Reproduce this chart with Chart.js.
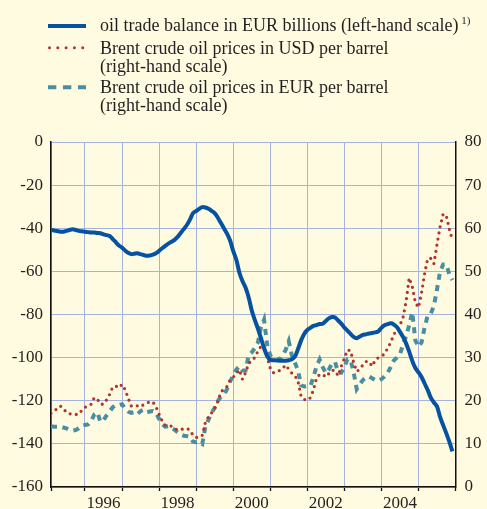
<!DOCTYPE html>
<html>
<head>
<meta charset="utf-8">
<script src="https://cdn.jsdelivr.net/npm/chart.js@4/dist/chart.umd.min.js"></script>
<style>
  html, body { margin: 0; padding: 0; background: #fefbe0; }
  #wrap { position: relative; width: 487px; height: 509px; }
</style>
</head>
<body>
<div id="wrap"><canvas id="c"></canvas></div>
<script>
// Monthly observations, February 1995 to December 2005
const firstYear = 1995;
const firstMonth = 2;

// Oil trade balance, EUR billions (left-hand scale)
const tradeBalance = [
  -40.8, -41.0, -41.3, -41.6, -41.6, -41.2, -40.8, -40.5, -40.8, -41.2, -41.4,          // 1995
  -41.6, -41.8, -42.0, -42.0, -42.2, -42.3, -42.8, -43.2, -43.6, -45.0, -46.5, -48.0,   // 1996
  -49.0, -50.3, -51.4, -52.0, -51.8, -51.6, -52.0, -52.4, -52.8, -52.6, -52.2, -51.6,   // 1997
  -50.5, -49.3, -48.2, -47.1, -46.3, -45.4, -44.0, -42.2, -40.4, -38.5, -36.0, -33.0,   // 1998
  -32.0, -31.0, -30.2, -30.4, -31.0, -31.9, -33.0, -35.0, -37.5, -40.0, -42.5, -45.7,   // 1999
  -50.5, -54.5, -60.5, -64.5, -67.5, -72.0, -78.0, -82.5, -86.5, -91.0, -95.5, -99.3,   // 2000
  -101.0, -101.2, -101.3, -101.4, -101.5, -101.4, -101.2, -100.8, -99.5, -96.0, -92.0, -89.0, // 2001
  -87.2, -86.2, -85.3, -84.9, -84.4, -84.3, -83.0, -81.8, -81.2, -81.4, -82.8, -84.2,   // 2002
  -86.0, -87.5, -89.0, -90.4, -91.0, -90.2, -89.5, -89.2, -88.8, -88.6, -88.3, -87.8,   // 2003
  -86.2, -85.0, -84.5, -84.1, -84.6, -85.8, -88.0, -90.4, -93.4, -97.2, -101.5, -104.8, // 2004
  -106.8, -109.0, -112.0, -115.0, -118.6, -120.8, -122.6, -127.5, -131.3, -135.0, -139.0, -143.5 // 2005
];

// Brent crude oil price, USD per barrel (right-hand scale)
const brentUsd = [
  17.1, 17.6, 18.2, 18.8, 18.2, 17.3, 17.0, 16.8, 16.8, 16.9, 17.8,          // 1995
  18.5, 18.7, 19.2, 20.7, 20.4, 19.2, 19.2, 20.2, 21.5, 23.2, 23.4, 23.0,    // 1996
  23.8, 22.6, 20.6, 18.8, 19.0, 18.8, 18.6, 19.1, 19.4, 19.8, 19.7, 18.6,    // 1997
  16.9, 15.3, 14.3, 14.3, 14.1, 13.6, 13.2, 13.3, 13.5, 13.6, 13.2, 12.0,    // 1998
  11.5, 11.5, 12.0, 15.0, 16.3, 17.2, 18.3, 19.8, 22.0, 22.7, 23.3, 24.8,    // 1999
  25.5, 26.2, 27.2, 25.0, 26.5, 28.6, 29.4, 30.0, 31.5, 32.6, 31.9, 30.2,    // 2000
  27.6, 26.5, 26.6, 27.0, 27.5, 28.3, 27.3, 26.4, 25.8, 24.5, 21.0, 20.3,    // 2001
  20.1, 20.7, 22.5, 25.3, 26.1, 26.1, 25.5, 26.3, 27.1, 27.0, 25.8, 28.0,    // 2002
  29.8, 31.8, 31.6, 28.9, 26.8, 27.3, 28.3, 29.1, 29.1, 28.0, 29.4, 30.0,    // 2003
  30.4, 30.8, 32.2, 33.5, 35.3, 36.6, 37.5, 39.3, 43.0, 48.5, 46.5, 42.8,    // 2004
  41.6, 45.0, 49.5, 53.0, 53.0, 51.8, 56.2, 60.3, 63.3, 63.0, 59.8, 57.3     // 2005
];

// Brent crude oil price, EUR per barrel (right-hand scale)
const brentEur = [
  14.1, 14.0, 14.0, 14.0, 13.8, 13.6, 13.3, 13.1, 13.2, 13.6, 14.2,          // 1995
  14.4, 14.5, 15.3, 16.8, 17.3, 15.1, 15.5, 16.6, 17.5, 18.5, 19.0, 19.0,    // 1996
  19.2, 18.2, 17.5, 17.2, 17.4, 16.9, 17.6, 17.9, 17.3, 17.5, 17.6, 17.2,    // 1997
  15.8, 14.6, 14.0, 14.1, 13.6, 13.3, 12.7, 12.2, 11.9, 11.8, 11.6, 10.5,    // 1998
  10.4, 10.5, 10.0, 14.0, 15.6, 17.2, 18.3, 19.9, 20.9, 21.4, 22.7, 24.5,    // 1999
  25.8, 27.2, 28.0, 27.0, 27.0, 30.5, 31.2, 32.2, 33.5, 37.0, 38.8, 33.0,    // 2000
  30.5, 29.9, 29.7, 29.5, 30.5, 31.8, 33.8, 30.5, 28.8, 27.0, 23.6, 23.3,    // 2001
  23.4, 23.4, 25.5, 28.0, 29.6, 27.8, 26.4, 27.3, 28.6, 29.0, 26.5, 26.5,    // 2002
  27.8, 29.6, 29.5, 26.7, 22.7, 23.8, 24.8, 25.4, 25.6, 25.2, 24.8, 24.6,    // 2003
  25.0, 25.6, 26.4, 27.8, 29.3, 30.0, 30.8, 33.0, 35.0, 37.5, 40.5, 34.0,    // 2004
  32.5, 33.5, 37.0, 39.8, 40.2, 42.0, 45.8, 49.9, 51.6, 51.6, 49.3, 48.0     // 2005
];

const leftTicks  = [0, -20, -40, -60, -80, -100, -120, -140, -160];
const rightTicks = [80, 70, 60, 50, 40, 30, 20, 10, 0];
const yearLabels = [1996, 1998, 2000, 2002, 2004];
const yearLines  = [1996, 1997, 1998, 1999, 2000, 2001, 2002, 2003, 2004, 2005, 2006];

const seriesNames = [
  ['oil trade balance in EUR billions (left-hand scale)'],
  ['Brent crude oil prices in USD per barrel', '(right-hand scale)'],
  ['Brent crude oil prices in EUR per barrel', '(right-hand scale)']
];
const footnoteMark = '1)';

const BLUE = '#0652a0';
const RED = '#b4312c';
const TEAL = '#4b8ea2';
const GRID = '#a6b2e0';
const INK = '#231f20';
const SERIF = '"Liberation Serif", "Times New Roman", serif';

// x position of each monthly observation, in fractional years
const monthPos = tradeBalance.map((_, i) => firstYear + (firstMonth - 1 + i) / 12);
const xMin = monthPos[0];
const points = vals => monthPos.map((x, i) => ({ x: x, y: vals[i] }));

// Key drawn above the plot area
const seriesKey = {
  id: 'seriesKey',
  afterDraw(chart) {
    const ctx = chart.ctx;
    ctx.save();
    // solid line sample
    ctx.strokeStyle = BLUE; ctx.lineWidth = 4; ctx.lineCap = 'butt'; ctx.setLineDash([]);
    ctx.beginPath(); ctx.moveTo(48, 26); ctx.lineTo(86, 26); ctx.stroke();
    // dotted sample
    ctx.strokeStyle = RED; ctx.lineWidth = 3; ctx.lineCap = 'round'; ctx.setLineDash([0, 8.3]);
    ctx.beginPath(); ctx.moveTo(49.5, 47.7); ctx.lineTo(84, 47.7); ctx.stroke();
    // dashed sample
    ctx.strokeStyle = TEAL; ctx.lineWidth = 4; ctx.lineCap = 'butt'; ctx.setLineDash([8.3, 6.7]);
    ctx.beginPath(); ctx.moveTo(48, 87.3); ctx.lineTo(86, 87.3); ctx.stroke();
    ctx.setLineDash([]);

    ctx.fillStyle = INK;
    ctx.font = '18px ' + SERIF;
    ctx.textAlign = 'left';
    ctx.textBaseline = 'alphabetic';
    const baselines = [[31], [54, 71.7], [93.3, 110.7]];
    seriesNames.forEach((lines, k) => {
      lines.forEach((t, j) => ctx.fillText(t, 100, baselines[k][j]));
    });
    const w = ctx.measureText(seriesNames[0][0]).width;
    ctx.font = '11px ' + SERIF;
    ctx.fillText(footnoteMark, 100 + w + 3, 24);
    ctx.restore();
  }
};

Chart.defaults.font.family = SERIF;
Chart.defaults.font.size = 17;
Chart.defaults.color = INK;

new Chart(document.getElementById('c'), {
  type: 'line',
  data: {
    datasets: [
      {
        label: seriesNames[0].join(' '),
        data: points(tradeBalance),
        yAxisID: 'yL',
        borderColor: BLUE,
        borderWidth: 4,
        pointRadius: 0,
        tension: 0.3,
        borderJoinStyle: 'round'
      },
      {
        label: seriesNames[1].join(' '),
        data: points(brentUsd),
        yAxisID: 'yR',
        borderColor: RED,
        borderWidth: 3.2,
        borderDash: [0, 6.2],
        borderCapStyle: 'round',
        pointRadius: 0,
        tension: 0
      },
      {
        label: seriesNames[2].join(' '),
        data: points(brentEur),
        yAxisID: 'yR',
        borderColor: TEAL,
        borderWidth: 4,
        borderDash: [6, 5.5],
        borderCapStyle: 'butt',
        pointRadius: 0,
        tension: 0
      }
    ]
  },
  options: {
    responsive: true,
    maintainAspectRatio: false,
    animation: false,
    layout: { padding: { top: 142, left: 0, right: 0, bottom: 0 } },
    plugins: { legend: { display: false }, tooltip: { enabled: false } },
    scales: {
      x: {
        type: 'linear',
        position: 'bottom',
        min: xMin,
        max: 2006,
        afterBuildTicks: s => { s.ticks = [xMin].concat(yearLines).map(v => ({ value: v })); },
        afterFit: s => { s.height = 22; },
        grid: { color: GRID, lineWidth: 1, tickLength: 4, tickColor: '#111', tickWidth: 1.3 },
        border: { color: '#111', width: 1.5 },
        ticks: {
          autoSkip: false,
          maxRotation: 0,
          labelOffset: 18.5,
          padding: 2.5,
          callback: v => yearLabels.includes(v) ? String(v) : ''
        }
      },
      yL: {
        type: 'linear',
        position: 'left',
        min: -160,
        max: 0,
        afterBuildTicks: s => { s.ticks = leftTicks.map(v => ({ value: v })); },
        afterFit: s => { s.width = 51; },
        grid: { color: GRID, lineWidth: 1, drawTicks: false },
        border: { color: '#111', width: 1.5 },
        ticks: { padding: 8 }
      },
      yR: {
        type: 'linear',
        position: 'right',
        min: 0,
        max: 80,
        afterBuildTicks: s => { s.ticks = rightTicks.map(v => ({ value: v })); },
        afterFit: s => { s.width = 31.5; },
        grid: { drawOnChartArea: false, drawTicks: false },
        border: { color: '#111', width: 1.5 },
        ticks: { padding: 9 }
      }
    }
  },
  plugins: [seriesKey]
});
</script>
</body>
</html>
